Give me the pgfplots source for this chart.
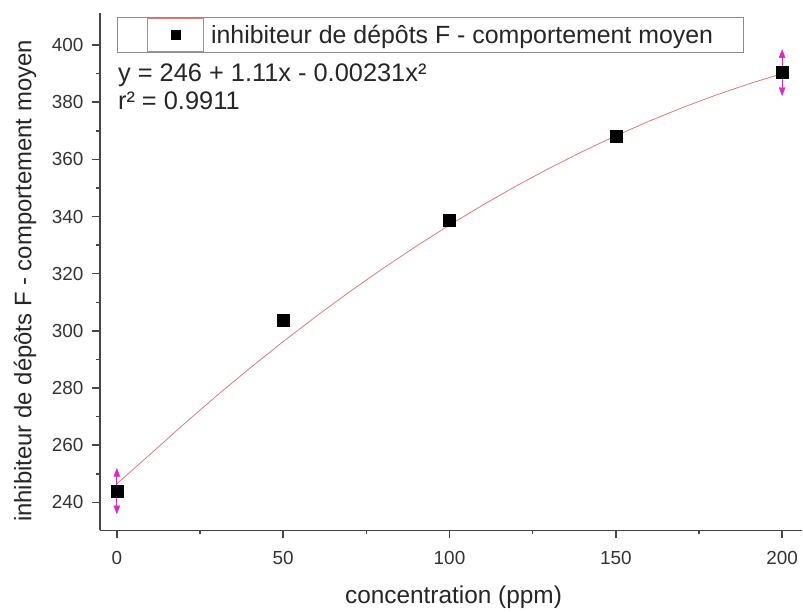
\documentclass[border=0pt]{standalone}
\usepackage{fontspec}
\setmainfont{Liberation Sans}
\usepackage{pgfplots}
\pgfplotsset{compat=1.18}
\definecolor{fitred}{RGB}{225,120,120}
\definecolor{errmag}{RGB}{220,40,200}
\definecolor{axgray}{RGB}{70,70,70}
\begin{document}
\begin{tikzpicture}
\begin{axis}[
  scale only axis, width=703bp, height=518bp,
  xmin=-5.1, xmax=206, ymin=230.2, ymax=411.2,
  axis x line=bottom, axis y line=left,
  axis line style={-, axgray, line width=1.8pt},
  xtick={0,50,...,200}, ytick={240,260,...,400},
  minor x tick num=1, minor y tick num=1,
  tick align=outside, major tick length=8bp, minor tick length=4bp,
  tick style={axgray, line width=1.5pt},
  ticklabel style={font=\fontsize{19}{22}\selectfont, text=black!80},
  xticklabel style={yshift=-9bp},
  yticklabel style={xshift=-5bp},
  /pgf/number format/assume math mode=true,
  xlabel={concentration (ppm)},
  ylabel={inhibiteur de dépôts F - comportement moyen},
  label style={text=black!85},
  xlabel style={font=\fontsize{24.5}{28}\selectfont, at={(axis description cs:0.5036,-0.129)}, anchor=center},
  ylabel style={font=\fontsize{24}{28}\selectfont, at={(axis description cs:-0.1067,0.482)}, anchor=center},
  legend style={at={(axis description cs:0.0242,0.9923)}, anchor=north west,
    draw=black!45, line width=0.8pt, font=\fontsize{25}{29}\selectfont, text=black!85,
    inner xsep=30bp, inner ysep=0.5bp, nodes={inner xsep=0pt, inner ysep=0pt},
    /tikz/every odd column/.style={column sep=7bp}},
  legend cell align=left,
]
\addplot[fitred, line width=0.8pt, forget plot] coordinates {
(0,246.5) (10,256.81) (20,267.24) (30,277.29) (40,286.96) (50,296.25)
(60,305.16) (70,313.69) (80,321.84) (90,329.61) (100,337) (110,344.01)
(120,350.64) (130,356.89) (140,362.76) (150,368.25) (160,373.36)
(170,378.09) (180,382.44) (190,386.41) (200,390)};
\addplot[errmag, only marks, mark=none, forget plot,
  error bars/.cd, y dir=both, y explicit, error mark=none,
  error bar style={errmag, line width=1.3pt}] coordinates {
(0,243.8) +- (0,6.5) (200,390.4) +- (0,6.5)};
\addplot[errmag, only marks, mark=triangle*, mark size=3.5bp, mark options={yscale=1.5}, forget plot] coordinates {(0,250) (200,396.5)};
\addplot[errmag, only marks, mark=triangle*, mark size=3.5bp, mark options={rotate=180, yscale=1.5}, forget plot] coordinates {(0,237.9) (200,384.2)};
\addplot[black, only marks, mark=square*, mark size=6bp,
  legend image code/.code={
    \draw[draw=fitred, line width=0.9pt] (0bp,-16.5bp) rectangle (56bp,16.5bp);
    \fill[black] (28bp,0bp) +(-4.5bp,-4.5bp) rectangle +(4.5bp,4.5bp);}]
  coordinates {(0,243.8) (50,303.7) (100,338.7) (150,368.1) (200,390.4)};
\addlegendentry{inhibiteur de dépôts F - comportement moyen\hspace{14bp}}
\node[anchor=base west, font=\fontsize{25.5}{28}\selectfont, text=black!85, align=left, inner sep=0pt]
  at (axis description cs:0.0256,0.8668) {y = 246 + 1.11x - 0.00231x²};
\node[anchor=base west, font=\fontsize{25.5}{28}\selectfont, text=black!85, align=left, inner sep=0pt]
  at (axis description cs:0.0256,0.8128) {r² = 0.9911};
\end{axis}
\path (current axis.south west) ++(-100bp,-81bp) rectangle ++(803bp,612bp);
\end{tikzpicture}
\end{document}
